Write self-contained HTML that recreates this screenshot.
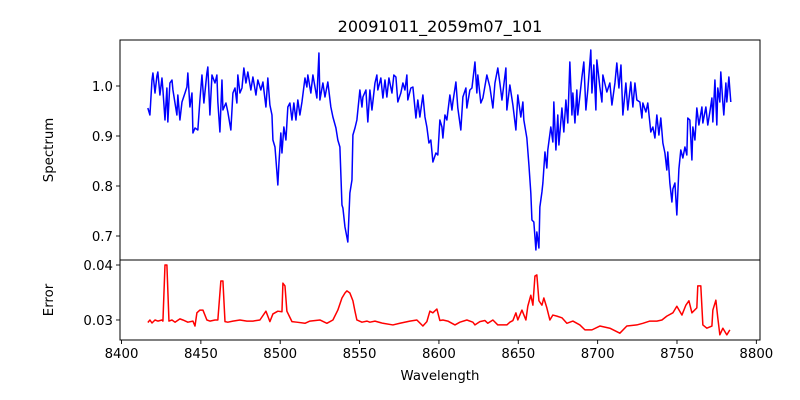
<!DOCTYPE html>
<html><head><meta charset="utf-8"><style>
html,body{margin:0;padding:0;background:#fff;}
svg{display:block;font-family:"DejaVu Sans","Liberation Sans",sans-serif;}
</style></head><body>
<svg id="chart" width="800" height="400" viewBox="0 0 800 400" xmlns="http://www.w3.org/2000/svg">
<rect width="800" height="400" fill="#fff"/>
<text x="440" y="32" text-anchor="middle" font-size="16">20091011_2059m07_101</text>
<text transform="translate(53,150) rotate(-90)" text-anchor="middle" font-size="13.3">Spectrum</text>
<text transform="translate(53,300) rotate(-90)" text-anchor="middle" font-size="13.3">Error</text>
<text x="440" y="380" text-anchor="middle" font-size="13.3">Wavelength</text>
<g id="layer"></g>
</svg>
<script>
const specWl=[8416.6,8417.9,8419.2,8419.8,8421.1,8422.3,8422.9,8424.2,8425.5,8426.1,8427.4,8428.6,8429.2,8430.5,8431.8,8432.4,8434.9,8435.5,8436.8,8438.1,8440.0,8441.2,8441.8,8443.1,8444.4,8445.0,8446.3,8448.1,8449.4,8450.7,8451.9,8453.8,8454.4,8455.7,8457.0,8458.9,8460.1,8460.7,8462.0,8463.3,8463.9,8465.8,8467.0,8468.9,8470.2,8471.5,8472.7,8473.3,8474.6,8475.9,8477.1,8478.4,8479.6,8481.5,8482.8,8484.7,8485.9,8487.8,8489.1,8491.0,8492.2,8493.5,8494.8,8495.4,8496.7,8497.9,8498.5,8499.2,8500.4,8501.1,8502.3,8503.6,8504.8,8506.1,8507.4,8508.6,8509.9,8511.1,8512.4,8513.7,8515.6,8516.8,8517.4,8519.3,8520.6,8523.1,8524.4,8525.0,8526.9,8528.2,8530.0,8531.9,8533.2,8535.1,8536.3,8537.6,8538.9,8539.5,8540.8,8542.0,8542.6,8543.9,8545.2,8545.8,8547.1,8548.3,8550.2,8551.5,8552.1,8554.0,8555.2,8556.5,8557.8,8559.7,8560.9,8561.5,8563.4,8564.7,8566.0,8567.2,8568.5,8570.4,8571.6,8572.9,8574.1,8576.0,8577.3,8578.6,8579.8,8580.4,8582.3,8583.6,8585.5,8586.7,8588.0,8589.9,8591.2,8592.4,8593.7,8594.9,8596.2,8598.1,8599.3,8600.6,8601.9,8602.5,8603.8,8605.0,8605.6,8606.9,8608.2,8608.8,8610.7,8611.9,8613.8,8615.1,8617.0,8617.6,8619.5,8620.8,8622.7,8623.9,8624.5,8626.4,8627.7,8630.2,8632.1,8634.0,8635.3,8637.1,8638.4,8639.7,8642.2,8642.8,8644.7,8646.6,8648.5,8649.7,8651.6,8652.9,8653.5,8655.4,8656.7,8657.9,8658.6,8659.8,8661.1,8661.7,8663.0,8663.6,8664.9,8665.5,8666.8,8668.0,8668.6,8670.5,8671.8,8672.4,8673.7,8674.9,8675.6,8677.5,8678.7,8680.0,8681.2,8682.5,8683.8,8684.4,8685.7,8686.9,8687.5,8690.1,8691.3,8692.6,8693.8,8695.7,8696.4,8697.6,8698.9,8699.5,8701.4,8702.7,8703.3,8705.8,8707.7,8709.0,8710.9,8712.1,8713.4,8714.7,8715.9,8717.8,8719.0,8720.9,8722.2,8723.5,8724.7,8726.6,8727.9,8728.5,8730.4,8731.6,8733.5,8734.8,8736.1,8737.3,8738.6,8739.8,8741.1,8742.4,8743.6,8744.2,8745.5,8746.8,8747.4,8748.7,8749.9,8751.2,8752.4,8753.7,8755.0,8756.2,8756.8,8758.1,8759.4,8760.0,8761.3,8762.5,8763.8,8765.7,8766.3,8768.2,8769.4,8770.7,8772.0,8772.6,8773.9,8775.1,8775.7,8777.0,8777.6,8778.9,8779.5,8780.8,8781.4,8782.7,8783.9];
const specVal=[0.956,0.942,1.012,1.026,0.986,1.02,1.028,0.982,1.016,0.992,0.932,0.996,0.928,1.006,1.012,0.992,0.942,0.982,0.932,0.968,0.986,0.998,1.026,0.958,0.986,0.906,0.916,0.912,0.972,1.022,0.966,1.026,1.038,0.942,1.022,1.006,1.022,0.968,0.908,1.012,0.952,0.966,0.948,0.912,0.986,0.996,0.966,1.022,0.986,0.996,1.036,1.006,1.028,0.992,1.018,0.982,1.012,0.992,1.008,0.958,1.016,0.962,0.942,0.892,0.878,0.828,0.802,0.846,0.906,0.866,0.918,0.892,0.958,0.966,0.932,0.966,0.932,0.972,0.942,0.968,1.016,0.998,1.022,0.986,1.022,0.976,1.066,0.972,1.006,0.978,1.008,0.958,0.938,0.916,0.892,0.878,0.762,0.756,0.718,0.698,0.688,0.786,0.812,0.902,0.916,0.932,0.992,0.958,0.978,0.992,0.928,0.992,0.952,1.006,1.022,0.992,1.016,0.976,1.012,0.978,1.016,0.986,1.022,1.018,0.968,0.986,1.006,0.992,1.022,0.972,0.996,0.998,0.936,0.972,0.938,0.982,0.938,0.918,0.886,0.892,0.848,0.866,0.862,0.932,0.918,0.896,0.942,0.932,0.948,0.982,0.952,0.968,1.008,0.956,0.912,0.978,0.996,0.956,0.992,0.996,1.048,0.986,1.022,0.966,0.976,1.022,0.998,0.956,1.006,1.036,1.006,0.972,1.036,0.952,1.002,0.962,0.912,0.982,0.938,0.968,0.932,0.896,0.842,0.786,0.732,0.728,0.672,0.708,0.676,0.758,0.788,0.806,0.868,0.836,0.872,0.918,0.888,0.968,0.872,0.942,0.882,0.956,0.908,0.972,0.926,1.048,0.942,0.986,0.926,0.992,0.942,1.018,1.048,0.952,0.992,1.072,0.986,1.042,0.952,1.052,0.998,0.968,1.022,0.988,1.006,0.962,1.006,1.046,0.996,1.042,0.942,1.006,0.952,1.008,0.958,1.006,0.972,0.968,0.936,0.966,0.948,0.966,0.908,0.918,0.896,0.942,0.902,0.936,0.886,0.866,0.832,0.868,0.806,0.768,0.794,0.806,0.742,0.834,0.872,0.856,0.878,0.862,0.936,0.932,0.852,0.918,0.892,0.956,0.922,0.958,0.926,0.958,0.922,0.948,0.976,0.928,1.012,0.922,0.996,0.968,1.028,0.966,0.942,1.006,0.968,1.018,0.968];
const errWl=[8416.6,8417.9,8419.2,8421.1,8422.9,8425.5,8426.1,8427.4,8428.6,8429.9,8431.8,8433.7,8436.8,8438.7,8441.8,8445.0,8446.3,8447.5,8449.4,8451.3,8453.8,8455.7,8458.9,8460.7,8462.6,8463.9,8465.2,8467.0,8470.2,8474.6,8479.0,8482.8,8487.2,8491.0,8493.5,8495.4,8498.5,8501.1,8501.7,8503.0,8504.2,8507.4,8510.5,8515.6,8518.7,8525.0,8529.4,8533.2,8536.3,8538.9,8540.8,8542.0,8543.9,8545.8,8547.1,8548.3,8551.5,8554.6,8556.5,8559.7,8564.7,8571.0,8575.4,8581.7,8586.1,8589.9,8592.4,8594.3,8596.2,8598.7,8600.6,8602.5,8605.6,8610.1,8613.2,8617.6,8621.4,8622.7,8625.8,8629.0,8630.8,8634.0,8637.1,8642.8,8644.7,8646.6,8648.5,8649.7,8652.3,8654.8,8656.0,8657.9,8659.2,8660.5,8661.7,8663.0,8664.9,8666.1,8668.0,8669.9,8671.8,8674.3,8677.5,8680.6,8684.4,8688.8,8692.0,8696.4,8701.4,8707.7,8714.0,8718.4,8724.7,8728.5,8732.9,8737.3,8740.5,8743.6,8747.4,8749.9,8753.1,8755.6,8757.5,8759.4,8762.5,8763.1,8765.0,8766.3,8768.8,8772.0,8772.6,8774.5,8775.7,8777.0,8778.9,8781.4,8783.3];
const errVal=[0.02955,0.0300,0.02945,0.0300,0.0298,0.0300,0.0298,0.0400,0.0400,0.0298,0.0300,0.0296,0.0302,0.0300,0.0296,0.0298,0.0289,0.0313,0.0318,0.0318,0.0300,0.0298,0.0300,0.0300,0.0371,0.0371,0.0297,0.0296,0.0298,0.0300,0.0298,0.0298,0.0300,0.0316,0.0297,0.0311,0.0316,0.0315,0.0367,0.0362,0.0316,0.0297,0.0296,0.0294,0.0298,0.0300,0.0294,0.0300,0.0318,0.0340,0.0349,0.0353,0.0349,0.0335,0.0316,0.0300,0.0296,0.0298,0.0296,0.0298,0.0294,0.0291,0.0294,0.0298,0.0300,0.0289,0.0297,0.0316,0.0313,0.0320,0.0299,0.0300,0.0298,0.0291,0.0296,0.0300,0.0296,0.0291,0.0297,0.0299,0.0294,0.0300,0.0291,0.0291,0.0296,0.0299,0.0313,0.0300,0.0318,0.0300,0.0325,0.0345,0.0327,0.0380,0.0382,0.0335,0.0327,0.0340,0.0322,0.0300,0.0309,0.0307,0.0304,0.0294,0.0298,0.0291,0.0282,0.0282,0.0289,0.0285,0.0276,0.0289,0.0291,0.0294,0.0298,0.0298,0.0300,0.0307,0.0313,0.0325,0.0309,0.0327,0.0335,0.0313,0.0322,0.0362,0.0362,0.0291,0.0285,0.0289,0.0318,0.0336,0.0304,0.0273,0.0285,0.0273,0.0282];
const xTicks=[8400,8450,8500,8550,8600,8650,8700,8750,8800];
const specTicks=[0.7,0.8,0.9,1.0];
const errTicks=[0.03,0.04];

const NS="http://www.w3.org/2000/svg";
const L=120,R=760,T1=40,B1=260,T2=260,B2=340;
const xMin=8399.05,xMax=8802.3;
const sMin=0.652,sMax=1.092;
const eMin=0.02636,eMax=0.04091;
const xs=v=>L+(v-xMin)/(xMax-xMin)*(R-L);
const ys=v=>B1-(v-sMin)/(sMax-sMin)*(B1-T1);
const ye=v=>B2-(v-eMin)/(eMax-eMin)*(B2-T2);
const layer=document.getElementById('layer');
function mk(tag,attrs){const e=document.createElementNS(NS,tag);for(const k in attrs)e.setAttribute(k,attrs[k]);layer.appendChild(e);return e;}

let d=specWl.map((w,i)=>(i?'L':'M')+xs(w).toFixed(2)+','+ys(specVal[i]).toFixed(2)).join('');
const sp=mk('path',{d:d,fill:'none',stroke:'#0000ff','stroke-width':1.5,'stroke-linejoin':'round'});


d=errWl.map((w,i)=>(i?'L':'M')+xs(w).toFixed(2)+','+ye(errVal[i]).toFixed(2)).join('');
const ep=mk('path',{d:d,fill:'none',stroke:'#ff0000','stroke-width':1.5,'stroke-linejoin':'round'});



const f1=mk('rect',{x:L,y:T1,width:R-L,height:B1-T1,fill:'none',stroke:'#000','stroke-width':1});


const f2=mk('rect',{x:L,y:T2,width:R-L,height:B2-T2,fill:'none',stroke:'#000','stroke-width':1});



xTicks.forEach(t=>{
  const x=xs(t);
  const tk=mk('line',{x1:x,x2:x,y1:B2,y2:B2+4,stroke:'#000','stroke-width':0.9});
  
  
  const tx=mk('text',{x:x,y:B2+18,'text-anchor':'middle','font-size':13.3});
  tx.textContent=t;
  
  
});
specTicks.forEach(t=>{
  const y=ys(t);
  const tk=mk('line',{x1:L-4,x2:L,y1:y,y2:y,stroke:'#000','stroke-width':0.9});
  
  
  const tx=mk('text',{x:L-7,y:y+5,'text-anchor':'end','font-size':13.3});
  tx.textContent=t.toFixed(1);
  
  
});
errTicks.forEach(t=>{
  const y=ye(t);
  const tk=mk('line',{x1:L-4,x2:L,y1:y,y2:y,stroke:'#000','stroke-width':0.9});
  
  
  const tx=mk('text',{x:L-7,y:y+5,'text-anchor':'end','font-size':13.3});
  tx.textContent=t.toFixed(2);
  
  
});
</script>
</body></html>
